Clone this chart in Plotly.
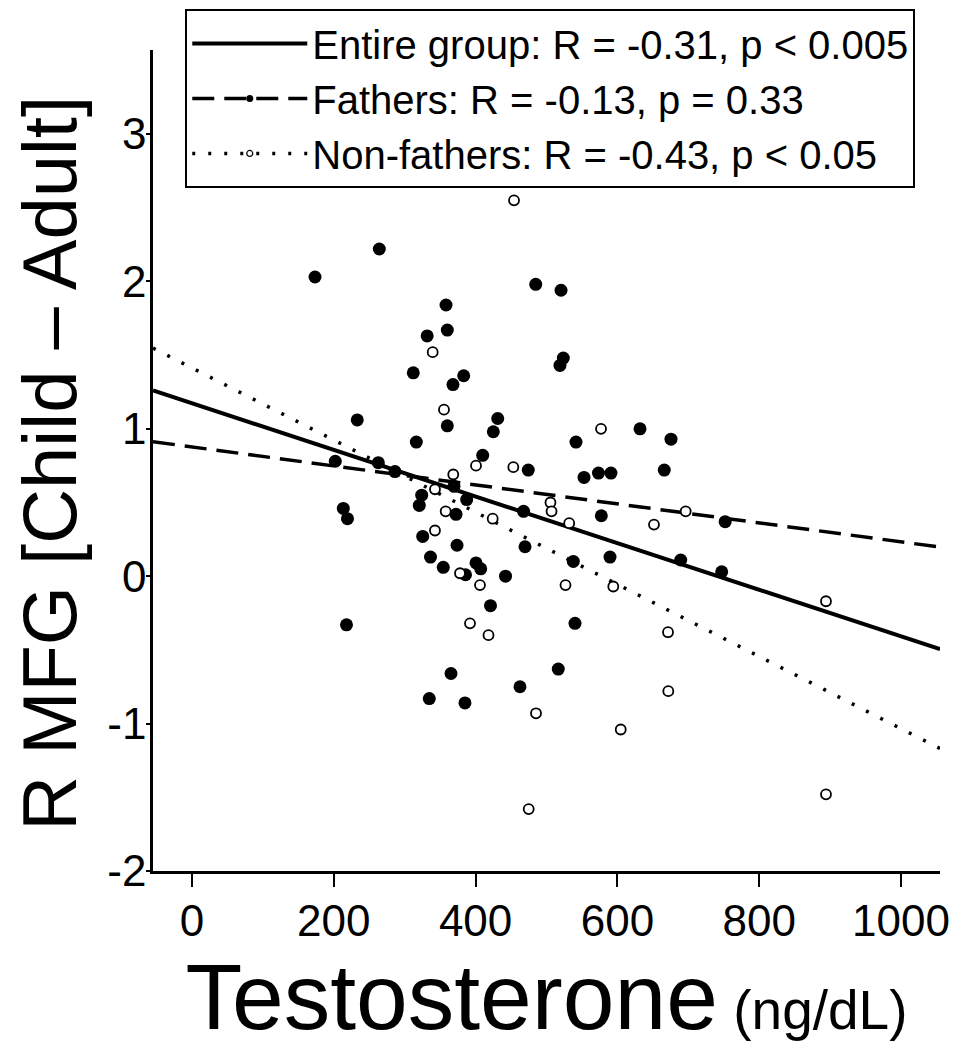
import numpy as np
import plotly.graph_objects as go

# ---- data ----
fathers_t = [173.5, 264.2, 358.3, 360.1, 331.7, 312.1, 383.2, 368.1, 431.2, 360.1,
             425.0, 233.1, 316.4, 410.0, 474.3, 202.1, 262.8, 286.3, 369.5, 324.0,
             320.6, 387.4, 372.4, 213.4, 219.3, 325.4, 373.8, 469.7, 467.6, 577.3,
             541.6, 484.8, 520.5, 523.7, 519.0, 631.9, 675.6, 552.9, 573.3, 590.9,
             666.1, 752.0, 589.6, 689.3, 747.1, 336.4, 354.4, 400.6, 407.2, 385.8,
             442.2, 537.8, 421.0, 217.9, 540.2, 365.3, 516.6, 462.6, 334.7, 385.0]
fathers_mfg = [2.03, 2.22, 1.84, 1.67, 1.63, 1.38, 1.36, 1.30, 1.07, 1.02,
               0.98, 1.06, 0.91, 0.82, 0.72, 0.78, 0.77, 0.71, 0.61, 0.55,
               0.48, 0.52, 0.42, 0.46, 0.39, 0.27, 0.21, 0.20, 0.44, 0.41,
               0.91, 1.98, 1.94, 1.48, 1.43, 1.00, 0.93, 0.67, 0.70, 0.70,
               0.72, 0.37, 0.13, 0.11, 0.03, 0.13, 0.06, 0.09, 0.05, 0.01,
               0.00, 0.10, -0.20, -0.33, -0.32, -0.66, -0.63, -0.75, -0.83, -0.86]

nonfathers_t = [454.2, 339.5, 355.4, 368.5, 400.6, 453.2, 342.7, 357.8, 424.1, 342.7,
                505.6, 507.1, 532.0, 576.9, 378.0, 406.2, 526.8, 392.1, 418.2, 485.2,
                474.9, 696.3, 651.6, 594.2, 671.4, 671.8, 604.7, 894.2, 894.2]
nonfathers_mfg = [2.55, 1.52, 1.13, 0.69, 0.75, 0.74, 0.59, 0.44, 0.39, 0.31,
                  0.50, 0.44, 0.36, 1.00, 0.02, -0.06, -0.06, -0.32, -0.40, -0.93,
                  -1.58, 0.44, 0.35, -0.07, -0.38, -0.78, -1.04, -0.17, -1.48]

# regression fits (intercept, slope)
fit_names = ["Entire group: R = -0.31, p < 0.005",
             "Fathers: R = -0.13, p = 0.33",
             "Non-fathers: R = -0.43, p < 0.05"]
fit_intercepts = [1.173, 0.877, 1.413]
fit_slopes = [-0.001581, -0.000644, -0.002447]

x_range = [-55, 1055]
y_range = [-2, 3.57]
x_ticks = [0, 200, 400, 600, 800, 1000]
y_ticks = [-2, -1, 0, 1, 2, 3]

y_title = "R MFG [Child \u2013 Adult]"
x_title = "Testosterone<span style='font-size:55px'> (ng/dL)</span>"

# ---- figure ----
fig = go.Figure()

dashes = ["solid", "22px,10px", "3px,13px"]
widths = [4, 3.5, 3.5]
for name, b0, b1, dsh, w in zip(fit_names, fit_intercepts, fit_slopes, dashes, widths):
    xs = np.array(x_range, dtype=float)
    fig.add_trace(go.Scatter(x=xs, y=b0 + b1 * xs, mode="lines",
                             line=dict(color="black", width=w, dash=dsh),
                             showlegend=False, hoverinfo="skip"))

fig.add_trace(go.Scatter(x=fathers_t, y=fathers_mfg, mode="markers",
                         marker=dict(symbol="circle", size=13, color="black",
                                     line=dict(width=0)),
                         showlegend=False))
fig.add_trace(go.Scatter(x=nonfathers_t, y=nonfathers_mfg, mode="markers",
                         marker=dict(symbol="circle", size=10, color="white",
                                     line=dict(width=1.8, color="black")),
                         showlegend=False))

# legend-only entries
leg_markers = [None,
               dict(symbol="circle", size=7, color="black"),
               dict(symbol="circle", size=6, color="white", line=dict(width=1.2, color="black"))]
for name, dsh, w, mk in zip(fit_names, dashes, widths, leg_markers):
    if mk is None:
        fig.add_trace(go.Scatter(x=[None], y=[None], mode="lines", name=name,
                                 line=dict(color="black", width=w, dash=dsh)))
    else:
        fig.add_trace(go.Scatter(x=[None], y=[None], mode="lines+markers", name=name,
                                 line=dict(color="black", width=w, dash=dsh), marker=mk))

tick_font = dict(family="Liberation Sans, Arial", size=44, color="black")

# page has an 8px body margin, so the figure is sized to fit inside it
fig.update_layout(
    width=968, height=1042,
    margin=dict(l=145, r=36, t=42, b=179, autoexpand=False),
    paper_bgcolor="white", plot_bgcolor="white",
    font=dict(family="Liberation Sans, Arial", color="black"),
    showlegend=True,
    legend=dict(x=0.041, y=1.05, xanchor="left", yanchor="top",
                bgcolor="white", bordercolor="black", borderwidth=2,
                font=dict(family="Liberation Sans, Arial", size=40, color="black"),
                itemwidth=115, tracegroupgap=0),
    xaxis=dict(range=x_range, tickvals=x_ticks, ticktext=[str(v) for v in x_ticks],
               showgrid=False, zeroline=False, showline=True, automargin=False,
               linecolor="black", linewidth=2.5,
               ticks="outside", ticklen=13, tickwidth=2, tickcolor="black",
               tickfont=tick_font, ticklabelstandoff=-4,
               title=dict(text=x_title,
                          font=dict(family="Liberation Sans, Arial", size=93, color="black"),
                          standoff=6)),
    yaxis=dict(range=y_range, tickvals=y_ticks, ticktext=[str(v) for v in y_ticks],
               showgrid=False, zeroline=False, showline=True, automargin=False,
               linecolor="black", linewidth=2.5,
               ticks="outside", ticklen=4, tickwidth=2, tickcolor="black",
               tickfont=tick_font, ticklabelstandoff=-9),
    annotations=[dict(text=y_title, textangle=-90, xref="paper", yref="paper",
                      x=-0.131, y=0.497, xanchor="center", yanchor="middle",
                      showarrow=False,
                      font=dict(family="Liberation Sans, Arial", size=76, color="black"))],
)

fig.write_html("out.html")
